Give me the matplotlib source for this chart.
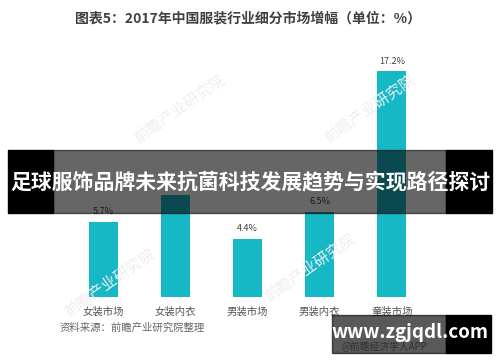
import matplotlib
matplotlib.use("Agg")
import matplotlib.pyplot as plt
from matplotlib.patches import Rectangle

plt.rcParams['font.family'] = ['Noto Sans CJK SC', 'DejaVu Sans']

categories = ['女装市场', '女装内衣', '男装市场', '男装内衣', '童装市场']
growth = [5.7, 7.8, 4.4, 6.5, 17.2]
# the 女装内衣 label sits under the banner in the reference, so it is not drawn
labels = ['5.7%', None, '4.4%', '6.5%', '17.2%']

W, H = 500, 362
fig = plt.figure(figsize=(W / 100, H / 100), dpi=100)
fig.patch.set_facecolor('white')


def px(x, y, w, h):
    # pixel box (top-left origin) -> figure fraction
    return [x / W, 1 - (y + h) / H, w / W, h / H]


def box(x, y, w, h, alpha=1.0):
    r = px(x, y, w, h)
    fig.add_artist(Rectangle((r[0], r[1]), r[2], r[3], transform=fig.transFigure,
                             color='black', alpha=alpha, zorder=10))


# axes: 72 px per category, bottom at y=297, ~13.1 px per %
ax = fig.add_axes(px(52.6, 61, 389.8, 236))
x = list(range(len(categories)))
ax.bar(x, growth, width=0.4, color='#17b8c6', zorder=2)
ax.set_xlim(-0.7, 4.7)
ax.set_ylim(0, 18)
for xi, v, lab in zip(x, growth, labels):
    if lab:
        ax.text(xi, v + 0.45, lab, ha='center', va='bottom', fontsize=6.5, color='#444444')
ax.set_xticks(x)
ax.set_xticklabels(categories, fontsize=7.5, color='#555555')
ax.tick_params(axis='x', length=0, pad=7)
ax.set_yticks([])
for s in ax.spines.values():
    s.set_visible(False)

# faint watermark logos
for wx, wy in [(0.36, 0.70), (0.74, 0.70), (0.22, 0.22), (0.62, 0.26)]:
    fig.text(wx, wy, '前瞻产业研究院', rotation=35, fontsize=11, color='#eeeeee',
             ha='center', va='center', zorder=0)

fig.text(0.496, 0.95, '图表5：2017年中国服装行业细分市场增幅（单位：%）',
         ha='center', va='center', fontsize=10, fontweight='heavy', color='#404040')
fig.text(60 / W, 1 - 328 / H, '资料来源：前瞻产业研究院整理',
         ha='left', va='center', fontsize=7.5, color='#666666')
fig.text(342 / W, 1 - 347 / H, '@前瞻经济学人APP',
         ha='left', va='center', fontsize=7, color='#888888')

# overlay banner
box(8, 150, 45, 63)
box(446, 150, 46, 63)
box(53, 150, 393, 63, alpha=0.6)
fig.text(250 / W, 1 - 182 / H, '足球服饰品牌未来抗菌科技发展趋势与实现路径探讨',
         ha='center', va='center', fontsize=15, fontweight='bold', color='white', zorder=11)

# site watermark box
box(332, 315, 114, 38, alpha=0.65)
box(446, 315, 45, 38)
fig.text(410 / W, 1 - 333 / H, 'www.zgjqdl.com', ha='center', va='center',
         fontsize=13.5, fontweight='bold', color='white', zorder=11)

fig.savefig('out.png', dpi=100)
